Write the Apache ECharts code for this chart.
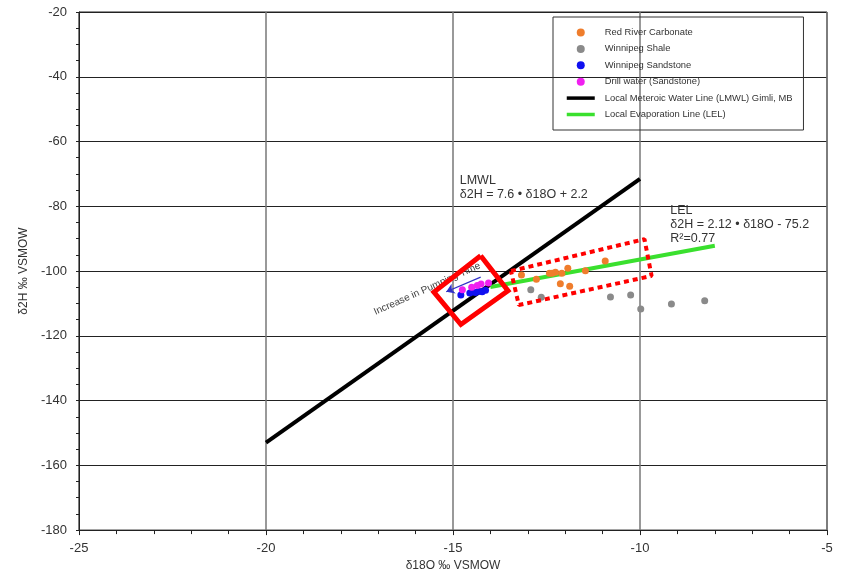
<!DOCTYPE html>
<html lang="en">
<head>
    <meta charset="UTF-8">
    <title>δ18O vs δ2H</title>
    <script src="https://cdn.jsdelivr.net/npm/echarts@6/dist/echarts.min.js"></script>
    <style>
        body { margin: 0; background: #fff; }
        #chart { width: 842px; height: 577px; }
    </style>
</head>
<body>
    <div id="chart"></div>

    <script type="text/javascript">
        // 数据
        const lmwl = [[-20, -153], [-10, -71.5]];
        const lel = [[-14.0, -104.9], [-8.0, -92.2]];
        const carbonate = [
            [-13.17, -101.2], [-12.77, -102.5], [-12.42, -100.7], [-12.35, -100.7],
            [-12.26, -100.4], [-12.09, -100.7], [-11.93, -99.1], [-12.13, -103.9],
            [-11.88, -104.7], [-11.46, -99.9], [-10.93, -96.9]
        ];
        const shale = [
            [-12.92, -105.8], [-12.64, -108.1], [-10.79, -108.0], [-10.25, -107.4],
            [-9.98, -111.7], [-9.16, -110.2], [-8.27, -109.2]
        ];
        const sandstone = [
            [-14.79, -107.4], [-14.55, -106.8], [-14.49, -106.4], [-14.40, -106.6],
            [-14.31, -106.2], [-14.22, -106.4], [-14.13, -105.9]
        ];
        const drillWater = [
            [-14.75, -105.8], [-14.50, -105.0], [-14.35, -104.5], [-14.25, -104.0], [-14.05, -103.7]
        ];
        // 标注框
        const solidBox = [[-14.26, -95.3], [-13.53, -106.1], [-14.79, -116.5], [-15.51, -106.5], [-14.26, -95.3]];
        const dottedBox = [[-13.45, -100.0], [-9.88, -90.15], [-9.69, -101.5], [-13.24, -110.5], [-13.45, -100.0]];
        const arrow = [[-14.26, -101.9], [-15.18, -106.4]];

        const chart = echarts.init(document.getElementById('chart'));
        const font = 'Liberation Sans, Arial, sans-serif';

        function scatter(name, data, color) {
            return {
                name: name, type: 'scatter', data: data, symbolSize: 7, z: 4,
                itemStyle: { color: color, opacity: 1 }
            };
        }

        chart.setOption({
            animation: false,
            textStyle: { fontFamily: font },
            grid: { left: 79, right: 15, top: 12, bottom: 44, show: true, borderColor: '#222', borderWidth: 1 },
            legend: {
                orient: 'vertical', left: 553, top: 17,
                padding: [11, 11, 11, 12],
                borderColor: '#333', borderWidth: 1,
                itemWidth: 28, itemHeight: 8, itemGap: 7.4,
                textStyle: { fontSize: 9.4, color: '#333', padding: [0, 0, 0, 5] },
                data: [
                    { name: 'Red River Carbonate', icon: 'circle' },
                    { name: 'Winnipeg Shale', icon: 'circle' },
                    { name: 'Winnipeg Sandstone', icon: 'circle' },
                    { name: 'Drill water (Sandstone)', icon: 'circle' },
                    { name: 'Local Meteroic Water Line (LMWL) Gimli, MB', itemStyle: { opacity: 0 }, lineStyle: { width: 3.5 } },
                    { name: 'Local Evaporation Line (LEL)', itemStyle: { opacity: 0 }, lineStyle: { width: 3.5 } }
                ]
            },
            xAxis: {
                type: 'value', min: -25, max: -5, interval: 5,
                name: 'δ18O ‰ VSMOW', nameLocation: 'middle', nameGap: 27,
                nameTextStyle: { fontSize: 12, color: '#333' },
                axisLine: { lineStyle: { color: '#222', width: 1 } },
                axisTick: { length: 5, lineStyle: { color: '#222' } },
                minorTick: { show: true, splitNumber: 5, length: 4, lineStyle: { color: '#222' } },
                axisLabel: { fontSize: 13, color: '#333', margin: 12 },
                splitLine: { lineStyle: { color: '#777', width: 1.5 } }
            },
            yAxis: {
                type: 'value', min: -180, max: -20, interval: 20,
                name: 'δ2H ‰ VSMOW', nameLocation: 'middle', nameGap: 47,
                nameTextStyle: { fontSize: 12, color: '#333' },
                axisLine: { show: true, lineStyle: { color: '#222', width: 1 } },
                axisTick: { show: true, length: 3, lineStyle: { color: '#222' } },
                minorTick: { show: true, splitNumber: 4, length: 3, lineStyle: { color: '#222' } },
                axisLabel: { fontSize: 13, color: '#333', margin: 12 },
                splitLine: { lineStyle: { color: '#222', width: 1 } }
            },
            series: [
                {
                    name: 'Local Meteroic Water Line (LMWL) Gimli, MB', type: 'line', data: lmwl,
                    symbol: 'none', z: 3, lineStyle: { color: '#000', width: 4 }, itemStyle: { color: '#000' }
                },
                {
                    name: 'Local Evaporation Line (LEL)', type: 'line', data: lel,
                    symbol: 'none', z: 3, lineStyle: { color: '#3ae02e', width: 4 }, itemStyle: { color: '#3ae02e' }
                },
                scatter('Red River Carbonate', carbonate, '#ef7d2c'),
                scatter('Winnipeg Shale', shale, '#8a8a8a'),
                scatter('Winnipeg Sandstone', sandstone, '#1010f0'),
                scatter('Drill water (Sandstone)', drillWater, '#f020f0'),
                {
                    name: 'arrow', type: 'lines', coordinateSystem: 'cartesian2d', z: 5,
                    symbol: ['none', 'arrow'], symbolSize: 8,
                    lineStyle: { color: '#3030c8', width: 1.3, opacity: 1 },
                    data: [{ coords: arrow }]
                },
                {
                    name: 'box1', type: 'line', data: solidBox, symbol: 'none', z: 6,
                    lineStyle: { color: '#ff0000', width: 5, join: 'miter' }
                },
                {
                    name: 'box2', type: 'line', data: dottedBox, symbol: 'none', z: 6,
                    lineStyle: { color: '#ff0000', width: 4, type: [5, 4], cap: 'butt' }
                }
            ]
        });

        // 注释文字，位置用数据坐标换算
        const px = p => chart.convertToPixel({ gridIndex: 0 }, p);
        const lmwlPos = px([-14.82, -69.85]);
        const lelPos = px([-9.19, -79.0]);
        const pumpPos = px([-15.69, -105.5]);
        chart.setOption({
            graphic: [
                {
                    type: 'text', x: lmwlPos[0], y: lmwlPos[1], z: 10,
                    style: { text: 'LMWL\nδ2H = 7.6 • δ18O + 2.2', fontSize: 12.5, lineHeight: 14, fontFamily: font, fill: '#333', verticalAlign: 'top' }
                },
                {
                    type: 'text', x: lelPos[0], y: lelPos[1], z: 10,
                    style: { text: 'LEL\nδ2H = 2.12 • δ18O - 75.2\nR²=0.77', fontSize: 12.5, lineHeight: 14, fontFamily: font, fill: '#333', verticalAlign: 'top' }
                },
                {
                    type: 'text', x: pumpPos[0], y: pumpPos[1], rotation: 0.42, z: 1,
                    style: { text: 'Increase in Pumping Time', fontSize: 10, fontFamily: font, fill: '#444', align: 'center', verticalAlign: 'middle' }
                }
            ]
        });
    </script>
</body>
</html>
